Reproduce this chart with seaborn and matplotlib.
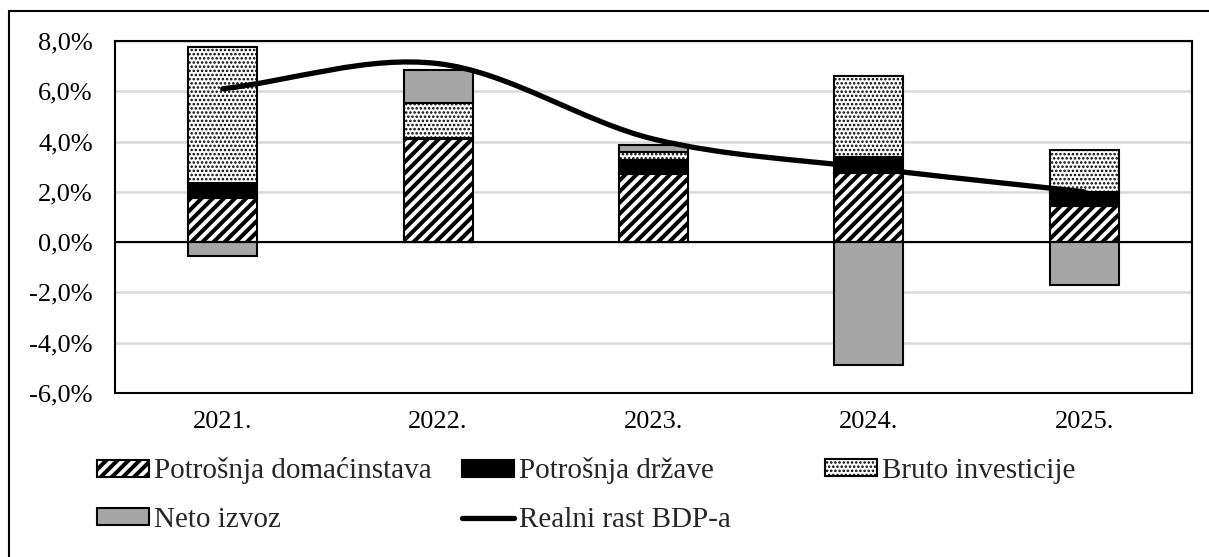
import numpy as np
import matplotlib
matplotlib.use("Agg")
import matplotlib.pyplot as plt
import seaborn as sns
from matplotlib.path import Path
from matplotlib.patches import PathPatch, Patch, Rectangle
from matplotlib.lines import Line2D
from matplotlib.ticker import FixedLocator, FixedFormatter

# Contributions to real GDP growth (percentage points)
years = ["2021.", "2022.", "2023.", "2024.", "2025."]
potrosnja_domacinstava = [1.75, 4.10, 2.70, 2.75, 1.45]
potrosnja_drzave = [0.60, 0.05, 0.55, 0.65, 0.55]
bruto_investicije = [5.40, 1.40, 0.35, 3.20, 1.65]
neto_izvoz = [-0.55, 1.30, 0.25, -4.90, -1.70]
realni_rast_bdp = [6.10, 7.10, 4.10, 2.95, 2.00]

y_ticks = [-6, -4, -2, 0, 2, 4, 6, 8]
y_tick_labels = ["-6,0%", "-4,0%", "-2,0%", "0,0%", "2,0%", "4,0%", "6,0%", "8,0%"]

label_dom = "Potrošnja domaćinstava"
label_drz = "Potrošnja države"
label_inv = "Bruto investicije"
label_neto = "Neto izvoz"
label_bdp = "Realni rast BDP-a"

sns.set_theme(style="white")
plt.rcParams["font.family"] = ["Liberation Serif", "DejaVu Serif"]

W, H = 1209, 557
fig = plt.figure(figsize=(W / 100, H / 100), dpi=100)
fig.patch.set_facecolor("white")
ax = fig.add_axes([115 / W, 1 - 393 / H, (1192 - 115) / W, (393 - 41) / H])

GREY = "#A6A6A6"
EDGE_LW = 1.5
BAR_W = 0.32
STRIPES, STRIPE_LW = "///", 2.9
DOTS, DOT_LW = "....", 1.2

dom = np.array(potrosnja_domacinstava)
drz = np.array(potrosnja_drzave)
inv = np.array(bruto_investicije)
neto = np.array(neto_izvoz)

layers = [
    (dom, np.zeros_like(dom), "white", STRIPES, STRIPE_LW),
    (drz, dom, "black", None, 1.0),
    (inv, dom + drz, "white", DOTS, DOT_LW),
    (neto, np.where(neto > 0, dom + drz + inv, 0.0), GREY, None, 1.0),
]

for values, bottom, color, hatch, hlw in layers:
    sns.barplot(x=years, y=values, bottom=bottom, color=color, saturation=1,
                edgecolor="black", linewidth=EDGE_LW, width=BAR_W,
                hatch=hatch, errorbar=None, ax=ax, zorder=3)
    for bar in ax.containers[-1]:
        if hasattr(bar, "set_hatch_linewidth"):
            bar.set_hatch_linewidth(hlw)

# Smoothed GDP growth curve (cubic Bezier through the yearly values)
pts = np.column_stack([np.arange(len(realni_rast_bdp), dtype=float),
                       np.asarray(realni_rast_bdp, dtype=float)])
n = len(pts)
verts = [pts[0]]
codes = [Path.MOVETO]
for i in range(n - 1):
    p1, p2 = pts[i], pts[i + 1]
    t1 = (pts[i + 1] - pts[i - 1]) / 6 if i > 0 else (p2 - p1) / 3
    t2 = (pts[i + 2] - pts[i]) / 6 if i + 2 < n else (p2 - p1) / 3
    verts += [p1 + t1, p2 - t2, p2]
    codes += [Path.CURVE4] * 3
ax.add_patch(PathPatch(Path(verts, codes), facecolor="none", edgecolor="black",
                       lw=3.8, capstyle="round", joinstyle="round", zorder=6))

ax.axhline(0, color="black", lw=1.5, zorder=4)
ax.set_xlim(-0.5, len(years) - 0.5)
ax.set_ylim(-6, 8)
ax.yaxis.set_major_locator(FixedLocator(y_ticks))
ax.yaxis.set_major_formatter(FixedFormatter(y_tick_labels))
ax.yaxis.grid(True, color="#D9D9D9", lw=1.8)
ax.xaxis.grid(False)
ax.set_axisbelow(True)
ax.set_xlabel("")
ax.set_ylabel("")
for sp in ax.spines.values():
    sp.set_visible(True)
    sp.set_color("black")
    sp.set_linewidth(1.5)
ax.tick_params(axis="x", length=0, pad=13, labelsize=19, labelcolor="black")
ax.tick_params(axis="y", length=0, pad=16, labelsize=19, labelcolor="black")

# Legend: one entry per slot, laid out on two rows
h_dom = Patch(facecolor="white", edgecolor="black", hatch=STRIPES, lw=EDGE_LW)
h_drz = Patch(facecolor="black", edgecolor="black", lw=EDGE_LW)
h_inv = Patch(facecolor="white", edgecolor="black", hatch=DOTS, lw=EDGE_LW)
h_neto = Patch(facecolor=GREY, edgecolor="black", lw=EDGE_LW)
h_bdp = Line2D([], [], color="black", lw=3.8, solid_capstyle="round")
hatch_lw = {id(h_dom): STRIPE_LW, id(h_inv): DOT_LW}

entries = [
    (h_dom, label_dom, 97, 471),
    (h_drz, label_drz, 462, 471),
    (h_inv, label_inv, 825, 471),
    (h_neto, label_neto, 97, 520),
    (h_bdp, label_bdp, 462, 520),
]
for handle, label, px, py in entries:
    leg = fig.legend(handles=[handle], labels=[label], loc="center left",
                     bbox_to_anchor=(px / W, 1 - py / H), bbox_transform=fig.transFigure,
                     frameon=False, borderpad=0, borderaxespad=0, fontsize=21,
                     handlelength=1.77, handleheight=0.51, handletextpad=0.17)
    if id(handle) in hatch_lw:
        for p in leg.get_patches():
            if hasattr(p, "set_hatch_linewidth"):
                p.set_hatch_linewidth(hatch_lw[id(handle)])

# Outer frame
fig.add_artist(Rectangle((9 / W, -0.1), 1.2, 1 - 11 / H + 0.1, transform=fig.transFigure,
                         fill=False, edgecolor="black", lw=1.5, clip_on=False))

fig.savefig("out.png", dpi=100)
